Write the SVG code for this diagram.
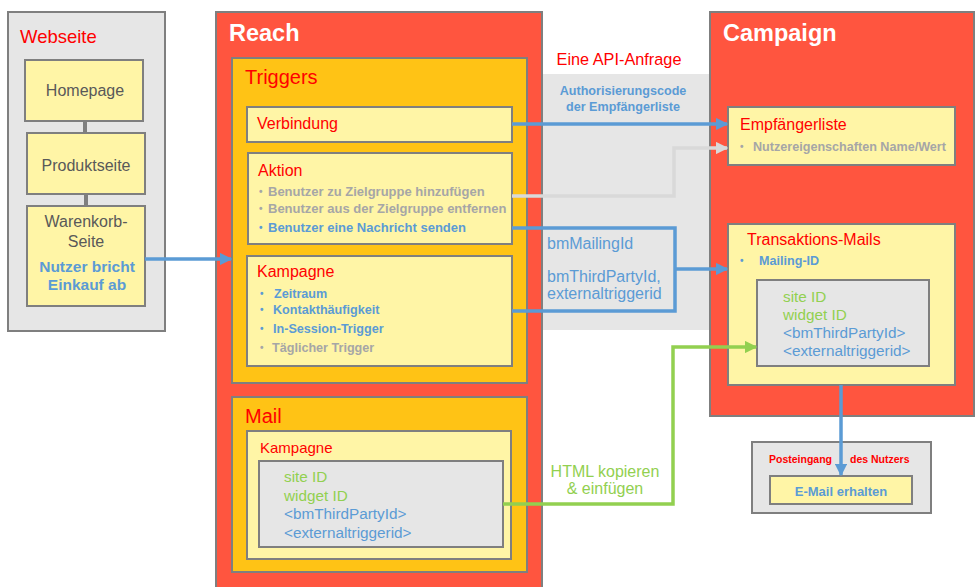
<svg xmlns="http://www.w3.org/2000/svg" width="976" height="587" viewBox="0 0 976 587">
  <style>
    text { font-family: "Liberation Sans", Arial, sans-serif; }
    .panel { fill: #E6E6E6; stroke: #7F7F7F; stroke-width: 2; }
    .sys { fill: #FF553F; stroke: #7F7F7F; stroke-width: 2; }
    .grp { fill: #FFC315; stroke: #7F7F7F; stroke-width: 2; }
    .card { fill: #FFF5A6; stroke: #7F7F7F; stroke-width: 2; }
    .code { fill: #E6E6E6; stroke: #7F7F7F; stroke-width: 2; }
    .sysTitle { fill: #FFFFFF; font-size: 23.5px; font-weight: bold; }
    .grpTitle { fill: #FF0000; font-size: 20px; }
    .cardTitle { fill: #FF0000; font-size: 16px; }
    .page { fill: #595959; font-size: 16px; text-anchor: middle; }
    .item { font-size: 12.6px; font-weight: bold; }
    .wide { font-size: 13px; }
    .dot { font-size: 10px; font-weight: bold; }
    .grey { fill: #A6A6A6; }
    .blue { fill: #5B9BD5; }
    .green { fill: #92D050; }
    .mono { font-size: 15.3px; }
    .wire { fill: none; stroke-width: 3.5; }
    .wBlue { stroke: #5B9BD5; }
    .wGrey { stroke: #D9D9D9; }
    .wGreen { stroke: #92D050; }
  </style>
  <defs>
    <marker id="ahBlue" viewBox="0 0 10 10" refX="9" refY="5" markerWidth="3.6" markerHeight="3.6" orient="auto" markerUnits="strokeWidth">
      <path d="M0,0 L10,5 L0,10 z" fill="#5B9BD5"/>
    </marker>
    <marker id="ahGrey" viewBox="0 0 10 10" refX="9" refY="5" markerWidth="3.6" markerHeight="3.6" orient="auto" markerUnits="strokeWidth">
      <path d="M0,0 L10,5 L0,10 z" fill="#D9D9D9"/>
    </marker>
    <marker id="ahGreen" viewBox="0 0 10 10" refX="9" refY="5" markerWidth="3.6" markerHeight="3.6" orient="auto" markerUnits="strokeWidth">
      <path d="M0,0 L10,5 L0,10 z" fill="#92D050"/>
    </marker>
  </defs>

  <!-- Website -->
  <g id="webseite">
    <rect class="panel" x="8" y="12" width="157" height="319"/>
    <text x="20" y="43" fill="#FF0000" font-size="18.5">Webseite</text>
    <line x1="85" y1="121" x2="85" y2="133" stroke="#7F7F7F" stroke-width="4"/>
    <line x1="86" y1="194" x2="86" y2="206" stroke="#7F7F7F" stroke-width="4"/>
  </g>
  <g id="homepage">
    <rect class="card" x="25" y="60" width="118" height="61"/>
    <text class="page" x="85" y="96">Homepage</text>
  </g>
  <g id="produktseite">
    <rect class="card" x="27" y="133" width="118" height="61"/>
    <text class="page" x="86" y="171">Produktseite</text>
  </g>
  <g id="warenkorb">
    <rect class="card" x="27" y="206" width="118" height="100"/>
    <text class="page" x="86" y="227">Warenkorb-</text>
    <text class="page" x="86" y="247">Seite</text>
    <text x="87" y="272" class="blue" font-size="15.5" font-weight="bold" text-anchor="middle">Nutzer bricht</text>
    <text x="87" y="290" class="blue" font-size="15.5" font-weight="bold" text-anchor="middle">Einkauf ab</text>
  </g>

  <!-- API request band -->
  <g id="api-anfrage">
    <rect x="542" y="74" width="168" height="256" fill="#E6E6E6"/>
    <text x="619" y="65" fill="#FF0000" font-size="16.3" text-anchor="middle">Eine API-Anfrage</text>
    <text x="623" y="95" class="item blue" text-anchor="middle">Authorisierungscode</text>
    <text x="623" y="111" class="item blue" text-anchor="middle">der Empfängerliste</text>
  </g>

  <!-- Reach -->
  <g id="reach">
    <rect class="sys" x="216" y="12" width="326" height="580"/>
    <text class="sysTitle" x="229" y="41">Reach</text>
  </g>
  <g id="triggers">
    <rect class="grp" x="232" y="58" width="295" height="325"/>
    <text class="grpTitle" x="245" y="84">Triggers</text>
  </g>
  <g id="verbindung">
    <rect class="card" x="247" y="107" width="265" height="35"/>
    <text class="cardTitle" x="257" y="129">Verbindung</text>
  </g>
  <g id="aktion">
    <rect class="card" x="248" y="153" width="264" height="91"/>
    <text class="cardTitle" x="258" y="176">Aktion</text>
    <text class="dot grey" x="259" y="195">•</text>
    <text class="item wide grey" x="268" y="196">Benutzer zu Zielgruppe hinzufügen</text>
    <text class="dot grey" x="259" y="212">•</text>
    <text class="item wide grey" x="268" y="213">Benutzer aus der Zielgruppe entfernen</text>
    <text class="dot blue" x="259" y="231">•</text>
    <text class="item wide blue" x="268" y="232">Benutzer eine Nachricht senden</text>
  </g>
  <g id="trigger-kampagne">
    <rect class="card" x="247" y="256" width="265" height="110"/>
    <text class="cardTitle" x="257" y="277">Kampagne</text>
    <text class="dot blue" x="260" y="297">•</text>
    <text class="item blue" x="274" y="298">Zeitraum</text>
    <text class="dot blue" x="260" y="313">•</text>
    <text class="item blue" x="273" y="314">Kontakthäufigkeit</text>
    <text class="dot blue" x="260" y="332">•</text>
    <text class="item blue" x="273" y="333">In-Session-Trigger</text>
    <text class="dot grey" x="260" y="351">•</text>
    <text class="item grey" x="272" y="352">Täglicher Trigger</text>
  </g>
  <g id="mail">
    <rect class="grp" x="232" y="397" width="295" height="175"/>
    <text class="grpTitle" x="245" y="423">Mail</text>
  </g>
  <g id="mail-kampagne">
    <rect class="card" x="247" y="431" width="264" height="128"/>
    <text x="260" y="453" fill="#FF0000" font-size="15">Kampagne</text>
    <rect class="code" x="259" y="461" width="244" height="86"/>
    <text class="mono green" x="284" y="482">site ID</text>
    <text class="mono green" x="284" y="501">widget ID</text>
    <text class="mono blue" x="284" y="519">&lt;bmThirdPartyId&gt;</text>
    <text class="mono blue" x="284" y="538">&lt;externaltriggerid&gt;</text>
  </g>

  <!-- Campaign -->
  <g id="campaign">
    <rect class="sys" x="710" y="12" width="264" height="404"/>
    <text class="sysTitle" x="723" y="41">Campaign</text>
  </g>
  <g id="empfaengerliste">
    <rect class="card" x="728" y="107" width="227" height="58"/>
    <text class="cardTitle" x="740" y="130">Empfängerliste</text>
    <text class="dot grey" x="740" y="150">•</text>
    <text class="item grey" x="753" y="151">Nutzereigenschaften Name/Wert</text>
  </g>
  <g id="transaktions-mails">
    <rect class="card" x="728" y="224" width="227" height="161"/>
    <text class="cardTitle" x="747" y="245">Transaktions-Mails</text>
    <text class="dot blue" x="740" y="264">•</text>
    <text class="item blue" x="759" y="265">Mailing-ID</text>
    <rect class="code" x="757" y="280" width="172" height="86"/>
    <text class="mono green" x="783" y="302">site ID</text>
    <text class="mono green" x="783" y="320">widget ID</text>
    <text class="mono blue" x="783" y="338">&lt;bmThirdPartyId&gt;</text>
    <text class="mono blue" x="783" y="356">&lt;externaltriggerid&gt;</text>
  </g>

  <!-- Inbox -->
  <g id="posteingang">
    <rect class="panel" x="752" y="442" width="179" height="71"/>
    <text x="769" y="463" fill="#FF0000" font-size="10.5" font-weight="bold">Posteingang</text>
    <text x="850" y="463" fill="#FF0000" font-size="10.5" font-weight="bold">des Nutzers</text>
  </g>
  <g id="email-erhalten">
    <rect class="card" x="770" y="476" width="142" height="28"/>
    <text x="841" y="496" class="blue" font-size="13" font-weight="bold" text-anchor="middle">E-Mail erhalten</text>
  </g>

  <!-- Connectors -->
  <g id="connectors">
    <path class="wire wBlue" d="M145,259 H231" marker-end="url(#ahBlue)"/>
    <path class="wire wBlue" d="M512,124 H727" marker-end="url(#ahBlue)"/>
    <path class="wire wGrey" d="M512,196 H674 V148 H727" marker-end="url(#ahGrey)"/>
    <path class="wire wBlue" d="M512,228 H675 V311 H512"/>
    <path class="wire wBlue" d="M675,269 H727" marker-end="url(#ahBlue)"/>
    <path class="wire wGreen" d="M503,504 H673 V347 H756" marker-end="url(#ahGreen)"/>
    <path class="wire wBlue" d="M841,385 V475" marker-end="url(#ahBlue)"/>
    <text x="547" y="249" class="blue" font-size="16">bmMailingId</text>
    <text x="547" y="282" class="blue" font-size="16">bmThirdPartyId,</text>
    <text x="547" y="299" class="blue" font-size="16">externaltriggerid</text>
    <text x="605" y="477" class="green" font-size="16" text-anchor="middle">HTML kopieren</text>
    <text x="605" y="494" class="green" font-size="16" text-anchor="middle">&amp; einfügen</text>
  </g>
</svg>
